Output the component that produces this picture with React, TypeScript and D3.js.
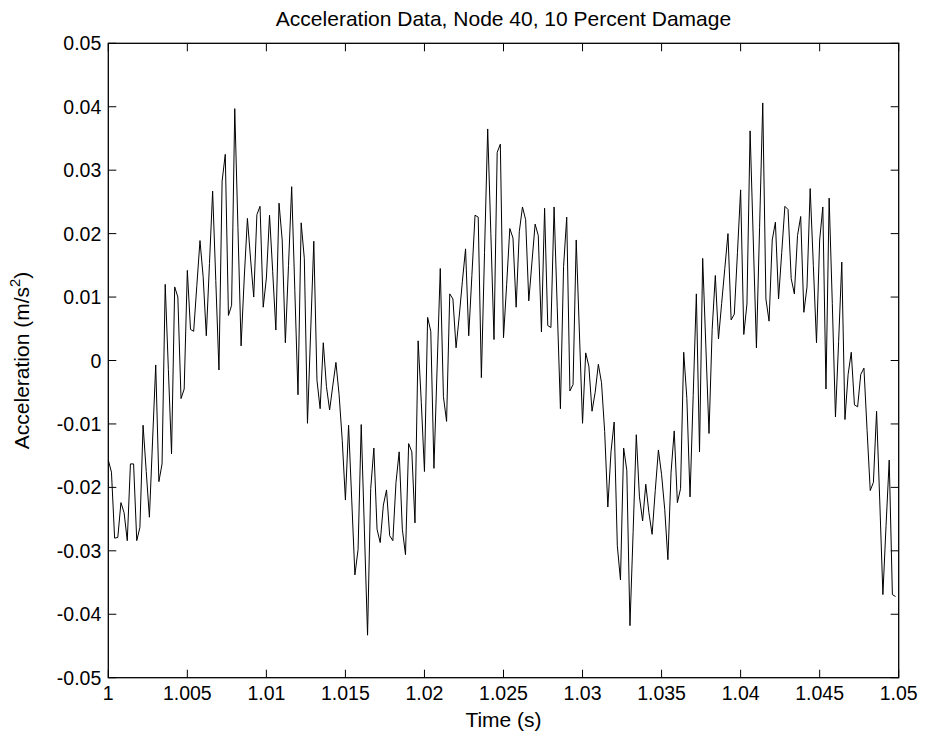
import React from "react";
import * as d3 from "d3";

// Sampling: 250 samples starting at t = 1 s, 5 kHz
const T0 = 1.0;
const DT = 0.0002;

// Acceleration values (m/s^2)
const accel = [
  -0.0157, -0.0176, -0.0280, -0.0279, -0.0224, -0.0240, -0.0284, -0.0163, -0.0163, -0.0284,
  -0.0263, -0.0102, -0.0175, -0.0247, -0.0127, -0.0007, -0.0191, -0.0163, 0.0120, -0.0014,
  -0.0147, 0.0116, 0.0100, -0.0060, -0.0045, 0.0142, 0.0049, 0.0046, 0.0118, 0.0189,
  0.0132, 0.0039, 0.0153, 0.0267, 0.0126, -0.0015, 0.0283, 0.0325, 0.0071, 0.0087,
  0.0397, 0.0210, 0.0023, 0.0130, 0.0224, 0.0160, 0.0100, 0.0230, 0.0243, 0.0084,
  0.0130, 0.0229, 0.0140, 0.0048, 0.0248, 0.0190, 0.0028, 0.0150, 0.0274, 0.0110,
  -0.0054, 0.0217, 0.0161, -0.0099, 0.0045, 0.0188, -0.0031, -0.0076, 0.0028, -0.0041,
  -0.0078, -0.0040, -0.0003, -0.0054, -0.0126, -0.0220, -0.0102, -0.0220, -0.0338, -0.0298,
  -0.0101, -0.0267, -0.0433, -0.0202, -0.0138, -0.0266, -0.0287, -0.0228, -0.0204, -0.0276,
  -0.0284, -0.0192, -0.0144, -0.0266, -0.0306, -0.0131, -0.0144, -0.0256, 0.0031, -0.0066,
  -0.0175, 0.0068, 0.0046, -0.0170, -0.0012, 0.0145, -0.0057, -0.0096, 0.0105, 0.0097,
  0.0020, 0.0070, 0.0125, 0.0176, 0.0039, 0.0134, 0.0229, 0.0226, -0.0027, 0.0170,
  0.0365, 0.0200, 0.0033, 0.0328, 0.0341, 0.0036, 0.0120, 0.0208, 0.0193, 0.0084,
  0.0203, 0.0242, 0.0222, 0.0094, 0.0155, 0.0215, 0.0197, 0.0045, 0.0240, 0.0055,
  0.0052, 0.0242, 0.0083, -0.0076, 0.0148, 0.0226, -0.0048, -0.0038, 0.0190, 0.0045,
  -0.0099, 0.0012, -0.0009, -0.0080, -0.0050, -0.0006, -0.0035, -0.0112, -0.0231, -0.0144,
  -0.0097, -0.0292, -0.0346, -0.0138, -0.0173, -0.0418, -0.0270, -0.0117, -0.0215, -0.0253,
  -0.0195, -0.0240, -0.0274, -0.0205, -0.0141, -0.0180, -0.0235, -0.0314, -0.0176, -0.0111,
  -0.0224, -0.0202, 0.0013, -0.0060, -0.0215, -0.0055, 0.0105, -0.0144, 0.0161, 0.0023,
  -0.0115, 0.0049, 0.0134, 0.0034, 0.0090, 0.0145, 0.0200, 0.0064, 0.0073, 0.0170,
  0.0269, 0.0041, 0.0089, 0.0362, 0.0190, 0.0020, 0.0210, 0.0406, 0.0097, 0.0062,
  0.0190, 0.0218, 0.0097, 0.0170, 0.0243, 0.0238, 0.0129, 0.0105, 0.0197, 0.0227,
  0.0076, 0.0116, 0.0271, 0.0150, 0.0028, 0.0190, 0.0242, -0.0045, 0.0256, 0.0090,
  -0.0089, 0.0030, 0.0155, -0.0093, -0.0022, 0.0013, -0.0070, -0.0073, -0.0022, -0.0012,
  -0.0110, -0.0205, -0.0192, -0.0080, -0.0220, -0.0369, -0.0260, -0.0157, -0.0369, -0.0372,
];

const xTicks = [1, 1.005, 1.01, 1.015, 1.02, 1.025, 1.03, 1.035, 1.04, 1.045, 1.05];
const xTickLabels = ["1", "1.005", "1.01", "1.015", "1.02", "1.025", "1.03", "1.035", "1.04", "1.045", "1.05"];
const yTicks = [-0.05, -0.04, -0.03, -0.02, -0.01, 0, 0.01, 0.02, 0.03, 0.04, 0.05];
const yTickLabels = ["-0.05", "-0.04", "-0.03", "-0.02", "-0.01", "0", "0.01", "0.02", "0.03", "0.04", "0.05"];

const title = "Acceleration Data, Node 40, 10 Percent Damage";
const xLabel = "Time (s)";

const W = 925;
const H = 747;
const L = 108.3;
const R = 898.7;
const T = 43.3;
const B = 677.7;
const TICK = 8;
const FONT = "Arial, 'Liberation Sans', Helvetica, sans-serif";
const FS = 19.5;
const FS_LABEL = 21;

export default function App() {
  const x = d3.scaleLinear().domain([1, 1.05]).range([L, R]);
  const y = d3.scaleLinear().domain([-0.05, 0.05]).range([B, T]);
  const line = d3
    .line<number>()
    .x((_, i) => x(T0 + i * DT))
    .y((d) => y(d));
  const path = line(accel) || "";

  return (
    <svg
      width={W}
      height={H}
      style={{ position: "absolute", left: 0, top: 0, background: "#fff" }}
      fontFamily={FONT}
    >
      <rect x={0} y={0} width={W} height={H} fill="#fff" />
      <path d={path} fill="none" stroke="#000" strokeWidth={1} strokeLinejoin="miter" />
      <rect x={L} y={T} width={R - L} height={B - T} fill="none" stroke="#000" strokeWidth={1.3} />
      {xTicks.map((t, i) => (
        <g key={"xt" + i}>
          <line x1={x(t)} x2={x(t)} y1={B} y2={B - TICK} stroke="#000" strokeWidth={1} />
          <line x1={x(t)} x2={x(t)} y1={T} y2={T + TICK} stroke="#000" strokeWidth={1} />
          <text x={x(t)} y={B + 22} textAnchor="middle" fontSize={FS} fill="#000">
            {xTickLabels[i]}
          </text>
        </g>
      ))}
      {yTicks.map((t, i) => (
        <g key={"yt" + i}>
          <line x1={L} x2={L + TICK} y1={y(t)} y2={y(t)} stroke="#000" strokeWidth={1} />
          <line x1={R} x2={R - TICK} y1={y(t)} y2={y(t)} stroke="#000" strokeWidth={1} />
          <text x={L - 7} y={y(t) + 7} textAnchor="end" fontSize={FS} fill="#000">
            {yTickLabels[i]}
          </text>
        </g>
      ))}
      <text x={(L + R) / 2} y={26} textAnchor="middle" fontSize={FS_LABEL} fill="#000">
        {title}
      </text>
      <text x={(L + R) / 2} y={B + 49} textAnchor="middle" fontSize={FS_LABEL} fill="#000">
        {xLabel}
      </text>
      <text
        transform={`translate(29, ${(T + B) / 2}) rotate(-90)`}
        textAnchor="middle"
        fontSize={FS_LABEL}
        fill="#000"
      >
        Acceleration (m/s
        <tspan fontSize={FS_LABEL * 0.7} dy={-9}>2</tspan>
        <tspan dy={9}>)</tspan>
      </text>
    </svg>
  );
}
